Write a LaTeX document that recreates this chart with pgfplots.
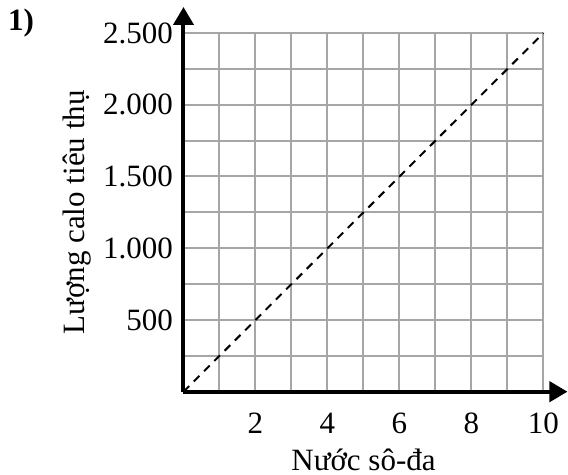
\documentclass[border=0pt]{standalone}
\usepackage{fontspec}
\setmainfont{Liberation Serif}
\usepackage{pgfplots}
\pgfplotsset{compat=1.18}
\usetikzlibrary{arrows.meta}
\begin{document}
\fontsize{15.5}{18}\selectfont
\begin{tikzpicture}
\useasboundingbox (-91.75pt,-41.65pt) rectangle (192.25pt,195.85pt);
\begin{axis}[
  scale only axis,
  width=180pt, height=179.35pt,
  xmin=0, xmax=10, ymin=0, ymax=2500,
  axis lines=left,
  axis line style={line width=2pt},
  x axis line style={-{Triangle[length=9pt,width=10pt]}, shorten >=-12pt},
  y axis line style={-{Triangle[length=9pt,width=10pt]}, shorten >=-13pt},
  xtick={1,...,10},
  xticklabels={,2,,4,,6,,8,,10},
  ytick={250,500,...,2500},
  yticklabels={,500,,1.000,,1.500,,2.000,,2.500},
  major tick length=0pt,
  grid=major,
  grid style={color=black!35, line width=1pt},
  xticklabel style={anchor=center, yshift=-15.6pt},
  yticklabel style={anchor=east},
  xlabel={Nước sô-đa},
  ylabel={Lượng calo tiêu thụ},
  xlabel style={at={(axis description cs:0.5,0)}, anchor=center, yshift=-34pt},
  ylabel style={at={(axis description cs:-0.2944,0.5)}, anchor=center, rotate=0},
  clip=false,
]
\addplot[black, line width=1pt, dash pattern=on 4pt off 3.25pt] coordinates {(0,0) (10,2500)};
\end{axis}
\node[font=\bfseries] at (-81.25pt,184.35pt) {1)};
\end{tikzpicture}
\end{document}
